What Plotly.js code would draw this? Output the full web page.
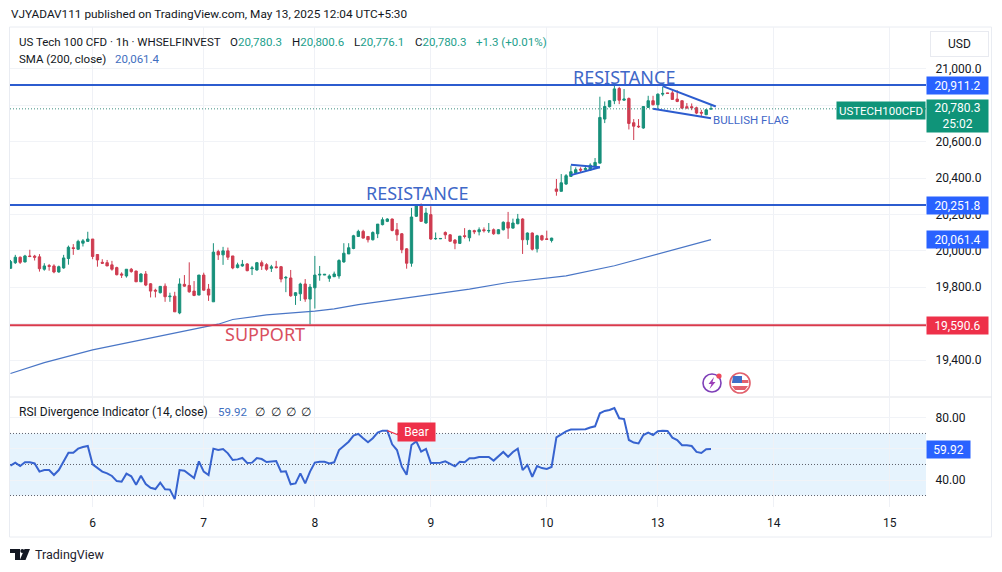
<!DOCTYPE html>
<html>
<head>
<meta charset="utf-8">
<script src="https://cdn.plot.ly/plotly-3.0.1.min.js"></script>
<style>html,body{margin:0;padding:0;background:#fff}#c{width:1002px;height:572px}</style>
</head>
<body>
<div id="c"></div>
<script>
const opens = [19904,19935,19965,19939,19972,19971,19967,19899,19919,19917,
19884,19906,19958,20017,20009,20042,20052,20065,19980,19937,
19935,19923,19908,19873,19862,19899,19889,19830,19873,19819,
19784,19770,19806,19748,19751,19659,19816,19810,19779,19757,
19867,19790,19720,19996,19978,20000,19972,19908,19917,19928,
19902,19895,19935,19924,19904,19912,19913,19851,19851,19755,
19764,19818,19735,19797,19867,19867,19849,19858,19862,19939,
19983,20013,20079,20107,20079,20061,20094,20144,20162,20175,
20116,20094,20011,19932,20190,20254,20153,20199,20066,20066,
20101,20088,20059,20041,20083,20072,20111,20105,20116,20109,
20116,20094,20116,20157,20125,20149,20175,20061,20098,20011,
20083,20066,20057,20340,20327,20367,20409,20427,20449,20446,
20444,20462,20482,20724,20792,20825,20892,20828,20837,20704,
20685,20675,20788,20825,20803,20861,20868,20868,20834,20825,
20792,20792,20786,20761,20748,20780.3];
const highs = [19950,19978,19969,19978,20006,19978,19982,19932,19928,19926,
19919,19978,20029,20037,20061,20065,20105,20065,19980,19954,
19950,19945,19913,19882,19899,19906,19891,19877,19889,19823,
19792,19806,19821,19770,19775,19849,19867,19937,19834,19867,
19880,19818,20042,20006,20022,20018,19972,19935,19950,19932,
19917,19939,19947,19932,19923,19945,19917,19862,19895,19773,
19825,19845,19818,19972,19917,19871,19871,19886,19954,20042,
20042,20088,20116,20116,20079,20107,20147,20184,20179,20177,
20153,20098,20015,20236,20252,20260,20236,20245,20101,20068,
20107,20092,20065,20081,20125,20116,20116,20129,20129,20153,
20123,20120,20162,20214,20177,20203,20179,20101,20101,20088,
20088,20111,20072,20395,20422,20422,20468,20459,20459,20462,
20481,20510,20847,20821,20828,20907,20901,20889,20843,20724,
20724,20793,20852,20852,20865,20901,20868,20879,20883,20825,
20812,20810,20792,20775,20779,20800.6];
const lows = [19902,19928,19928,19937,19965,19947,19886,19891,19891,19877,
19880,19902,19924,19978,20006,20024,20052,19954,19913,19928,
19917,19891,19865,19851,19853,19880,19829,19829,19806,19744,
19744,19766,19720,19720,19665,19652,19803,19770,19751,19757,
19781,19725,19720,19950,19923,19950,19899,19904,19913,19888,
19867,19891,19895,19891,19884,19904,19827,19773,19748,19703,
19725,19720,19596,19683,19836,19867,19830,19856,19847,19935,
19983,20009,20076,20068,20046,20057,20070,20140,20158,20107,
20055,19987,19902,19913,20186,20160,20149,20061,20061,20066,
20065,20050,20009,20039,20068,20052,20092,20085,20101,20098,
20088,20092,20112,20066,20122,20146,19983,20033,20002,19991,
20055,20061,20046,20303,20327,20363,20407,20422,20431,20437,
20440,20459,20482,20702,20788,20806,20806,20825,20667,20609,
20675,20671,20786,20799,20779,20850,20865,20830,20817,20782,
20779,20773,20751,20740,20746,20776.1];
const closes = [19941,19965,19937,19972,19969,19965,19902,19917,19915,19884,
19913,19961,20020,20013,20052,20055,20065,19969,19950,19932,
19917,19899,19869,19867,19899,19886,19830,19873,19812,19779,
19779,19805,19748,19751,19665,19818,19806,19775,19755,19867,
19784,19757,19993,19978,20000,19965,19906,19923,19926,19891,
19906,19935,19917,19899,19912,19908,19845,19854,19753,19770,
19818,19735,19801,19867,19871,19871,19862,19873,19947,19987,
20017,20083,20107,20070,20061,20101,20147,20171,20175,20112,
20088,20006,19932,20186,20249,20162,20208,20065,20068,20068,
20088,20053,20042,20081,20079,20112,20105,20116,20111,20112,
20094,20116,20157,20125,20153,20175,20061,20098,20009,20083,
20061,20063,20070,20327,20374,20413,20435,20446,20444,20453,
20471,20486,20733,20793,20825,20890,20828,20834,20700,20685,
20682,20793,20825,20803,20861,20865,20865,20832,20821,20784,
20786,20786,20757,20757,20775,20780.3];
const rsiValues = [49.2,51.2,49.0,51.4,51.4,50.7,45.4,46.4,46.4,43.2,
46.4,52.2,57.6,57.6,60.2,61.3,61.9,50.1,47.5,45.4,
44.3,42.6,39.3,38.9,44.1,42.4,37.0,42.8,37.4,35.0,
34.2,38.3,34.0,33.8,27.7,46.4,46.0,43.4,41.3,52.0,
45.4,43.2,60.2,59.3,60.0,57.2,52.9,53.3,54.2,51.0,
51.2,54.2,53.5,51.6,52.0,52.2,45.4,45.6,37.2,37.8,
44.3,37.8,45.4,51.2,51.8,51.8,50.7,51.4,59.3,61.9,
64.7,68.6,69.7,66.9,64.3,66.9,70.5,71.8,71.8,63.0,
59.3,48.6,43.4,62.6,64.9,58.3,60.0,51.0,51.0,51.2,
52.0,50.3,48.8,51.8,51.4,54.0,54.0,54.8,54.6,54.8,
52.5,55.0,58.1,55.0,58.1,60.2,46.4,49.7,42.1,49.0,
47.7,47.1,48.4,67.5,69.4,71.4,72.5,72.7,72.5,72.7,
73.8,74.6,83.0,84.5,85.1,86.4,79.8,79.3,65.8,64.1,
63.6,69.0,70.5,69.0,71.4,71.8,71.6,67.3,65.8,62.4,
62.4,61.9,58.1,57.4,59.8,59.92];
const smaX = [0,7,17,29,40,43,46,53,63,67,72,87,95,103,111,115,125,135,145];
const smaValues = [19326,19386,19456,19520,19581,19597,19623,19648,19669,19681,19705,19762,19790,19826,19850,19863,19918,19990,20061.4];
const tickVals = [17,40,63,87,111,134,158,182];
const tickLabels = ['6','7','8','9','10','13','14','15'];
const priceTicks = [19400,19600,19800,20000,20200,20400,20600,20800,21000];
const rsiTicks = [40,60,80];
const rsiBands = [30,50,70];
const resistanceHigh = 20911.2, resistanceLow = 20251.8, support = 19590.6, lastPrice = 20780.3, smaLast = 20061.4, rsiLast = 59.92;
const flagTopX = [135,146], flagTopY = [20905,20793];
const flagBotX = [133,145], flagBotY = [20781,20729];
const pennantTopX = [116,122], pennantTopY = [20473,20459];
const pennantBotX = [116,122], pennantBotY = [20416,20459];
const bearLinkX = [78,80.3], bearLinkY = [71.8,69];

const xr = [-0.1,189.5], yr=[19197,21230], rr=[22.6,93.5];
const L=10,R=926,T=27,B=507,PANE=397;
const px=x=>(x-L)/(R-L), py=y=>(B-y)/(B-T);
const FONT='Roboto, sans-serif', BIGFONT='"Noto Sans", sans-serif', INK='#131722';
const BLUE='#2c5ccf', RED='#d83a4c', CUP='#17907a', CDN='#cf3c50', BADGE='#2962ff', BADR='#ee3049';
const idx = opens.map((_,i)=>i);

function seg(x,y,color,width,dash,ya){return {type:'scatter',mode:'lines',x,y,yaxis:ya||'y',line:{color,width,dash:dash||'solid'},hoverinfo:'skip',showlegend:false};}
const DOT='1px,2px';
const data=[
 seg(smaX,smaValues,'#4a76c6',1.2),
 {type:'candlestick',x:idx,open:opens,high:highs,low:lows,close:closes,yaxis:'y',
  increasing:{line:{color:CUP,width:1},fillcolor:CUP},decreasing:{line:{color:CDN,width:1},fillcolor:CDN},
  whiskerwidth:0,hoverinfo:'skip',showlegend:false},
 seg(xr,[lastPrice,lastPrice],'#3f8f80',1,DOT),
 seg(xr,[resistanceHigh,resistanceHigh],BLUE,2),
 seg(xr,[resistanceLow,resistanceLow],BLUE,2),
 seg(xr,[support,support],RED,2),
 seg(flagTopX,flagTopY,BLUE,2), seg(flagBotX,flagBotY,BLUE,2),
 seg(pennantTopX,pennantTopY,BLUE,2), seg(pennantBotX,pennantBotY,BLUE,2),
 ...rsiBands.map(v=>seg(xr,[v,v],'#5f626d',1,DOT,'y2')),
 seg(idx,rsiValues,'#3763cf',2,'solid','y2'),
 seg(bearLinkX,bearLinkY,'#ee3049',1.2,'solid','y2')
];

function txt(x,y,text,o){return Object.assign({xref:'paper',yref:'paper',x:px(x),y:py(y),text,showarrow:false,xanchor:'left',yanchor:'middle',font:{family:FONT,size:11.5,color:INK},borderpad:0},o||{});}
function badge(val,ya,text,bg,w){return {xref:'paper',yref:ya,x:px(926),y:val,text,showarrow:false,xanchor:'left',yanchor:'middle',width:w||61,height:17,bgcolor:bg,borderpad:0,align:'center',font:{family:FONT,size:12,color:'#fff'}};}
function label(x,ya,y,text,size,color,xa,fam){return {xref:'x',yref:ya,x,y,text,showarrow:false,xanchor:xa||'center',yanchor:'middle',font:{family:fam||BIGFONT,size,color},borderpad:0};}

const annotations=[
 txt(10,14,'VJYADAV111 published on TradingView.com, May 13, 2025 12:04 UTC+5:30',{font:{family:FONT,size:11.8,color:INK}}),
 txt(18,42,'US Tech 100 CFD · 1h · WHSELFINVEST'),
 txt(229,42,'O<span style="color:#22a08c">20,780.3</span>'),
 txt(291,42,'H<span style="color:#22a08c">20,800.6</span>'),
 txt(353,42,'L<span style="color:#22a08c">20,776.1</span>'),
 txt(414,42,'C<span style="color:#22a08c">20,780.3</span>'),
 txt(475,42,'+1.3 (+0.01%)',{font:{family:FONT,size:11.5,color:'#22a08c'}}),
 txt(18,59,'SMA (200, close)'),
 txt(114,59,'20,061.4',{font:{family:FONT,size:11.5,color:'#3f6fc0'}}),
 txt(18,412,'RSI Divergence Indicator (14, close)',{font:{family:FONT,size:12,color:INK}}),
 txt(217,412,'59.92',{font:{family:FONT,size:11.5,color:'#3f6fc0'}}),
 txt(254,412,'∅'),txt(270,412,'∅'),txt(285,412,'∅'),txt(300,412,'∅'),
 label(84.2,'y',20318,'RESISTANCE',18,'#3f68c8'),
 label(127,'y',20958,'RESISTANCE',18,'#3f68c8'),
 label(52.7,'y',19543,'SUPPORT',18,'#d9505f'),
 label(145.2,'y',20720,'BULLISH FLAG',11.5,'#3f68c8','left',FONT),
 badge(resistanceHigh,'y','20,911.2',BADGE),
 badge(resistanceLow,'y','20,251.8',BADGE),
 badge(smaLast,'y','20,061.4',BADGE),
 badge(support,'y','19,590.6',BADR),
 badge(rsiLast,'y2','59.92',BADGE,43),
 txt(926,116.5,'20,780.3<br>25:02',{width:61,height:32,bgcolor:'#0f9479',align:'center',font:{family:FONT,size:12,color:'#fff'}}),
 txt(836,110,'USTECH100CFD',{width:88,height:17,bgcolor:'#0f9479',align:'center',font:{family:FONT,size:11.5,color:'#fff'}}),
 txt(930,44,'USD',{width:57,height:24,align:'center',bordercolor:'#e8eaf0',borderwidth:1,bgcolor:'#fff',font:{family:FONT,size:12,color:INK}}),
 {xref:'x',yref:'y2',x:84.1,y:71,text:'Bear',showarrow:false,xanchor:'center',yanchor:'middle',width:37,height:18,bgcolor:BADR,borderpad:0,font:{family:FONT,size:12,color:'#fff'}},
 txt(34,554,'TradingView',{font:{family:FONT,size:12.5,color:'#1e222d'}})
];

function line(x0,y0,x1,y1,color,w){return {type:'line',xref:'paper',yref:'paper',x0:px(x0),y0:py(y0),x1:px(x1),y1:py(y1),line:{color,width:w||1},layer:'below'};}
function circ(cx,cy,r,fill,lc,w){return {type:'circle',xref:'paper',yref:'paper',x0:px(cx-r),x1:px(cx+r),y0:py(cy+r),y1:py(cy-r),fillcolor:fill,line:{color:lc,width:w},layer:'above'};}
function poly(pts,fill){return {type:'path',xref:'paper',yref:'paper',path:'M'+pts.map(p=>px(p[0])+','+py(p[1])).join(' L')+' Z',fillcolor:fill,line:{width:0},layer:'above'};}
const shapes=[
 {type:'rect',xref:'x',yref:'y2',x0:xr[0],x1:xr[1],y0:30,y1:70,fillcolor:'#e6f3fd',line:{width:0},layer:'below'},
 line(9.5,27,991.5,27,'#e9ecf2'),line(9.5,537,991.5,537,'#e9ecf2'),
 line(9.5,27,9.5,537,'#e9ecf2'),line(991.5,27,991.5,537,'#e9ecf2'),
 line(9.5,PANE,991.5,PANE,'#e3e5ea'),
 circ(712,383,9,'#fff','#7e3fb8',1.6),
 poly([[714,377],[708.5,384],[711.5,384],[709.5,389],[715.5,382],[712.5,382]],'#9c3fb8'),
 circ(719,376,2.6,'#ef4a5a','#ef4a5a',0),
 circ(740,383,10,'#fff','#e2606c',1.6),
 poly([[732,386],[748,386],[745,390],[735,390]],'#e2606c'),
 poly([[733,380],[748,380],[748.6,383],[731.6,383]],'#e2606c'),
 poly([[733,376],[742,376],[742,383],[732,383]],'#3f6fc8'),
 poly([[10,549],[20,549],[20,560],[15,560],[15,553],[10,553]],'#131722'),
 circ(22.3,551,2,'#131722','#131722',0),
 poly([[24.5,549],[30,549],[25.5,560],[19.8,560]],'#131722')
];

const tf={family:FONT,size:12,color:INK};
const layout={
 width:1002,height:572,paper_bgcolor:'#fff',plot_bgcolor:'rgba(0,0,0,0)',showlegend:false,
 margin:{l:L,r:1002-R,t:T,b:572-B,pad:0},
 font:{family:FONT,size:12,color:INK},
 xaxis:{range:xr,anchor:'y2',tickmode:'array',tickvals:tickVals,ticktext:tickLabels,showgrid:true,gridcolor:'#eff1f6',gridwidth:1,zeroline:false,showline:false,ticks:'outside',ticklen:5,tickcolor:'rgba(0,0,0,0)',rangeslider:{visible:false},tickfont:tf},
 yaxis:{domain:[py(PANE),1],range:yr,side:'right',tickmode:'array',tickvals:priceTicks,tickformat:',.1f',showgrid:true,gridcolor:'#f1f3f7',zeroline:false,showline:false,ticks:'outside',ticklen:6,tickcolor:'rgba(0,0,0,0)',tickfont:tf},
 yaxis2:{domain:[0,py(PANE)],range:rr,side:'right',tickmode:'array',tickvals:rsiTicks,tickformat:'.2f',showgrid:true,gridcolor:'#f1f3f7',zeroline:false,showline:false,ticks:'outside',ticklen:6,tickcolor:'rgba(0,0,0,0)',tickfont:tf},
 annotations,shapes
};
Plotly.newPlot('c',data,layout,{staticPlot:true,displayModeBar:false});
</script>
</body>
</html>
